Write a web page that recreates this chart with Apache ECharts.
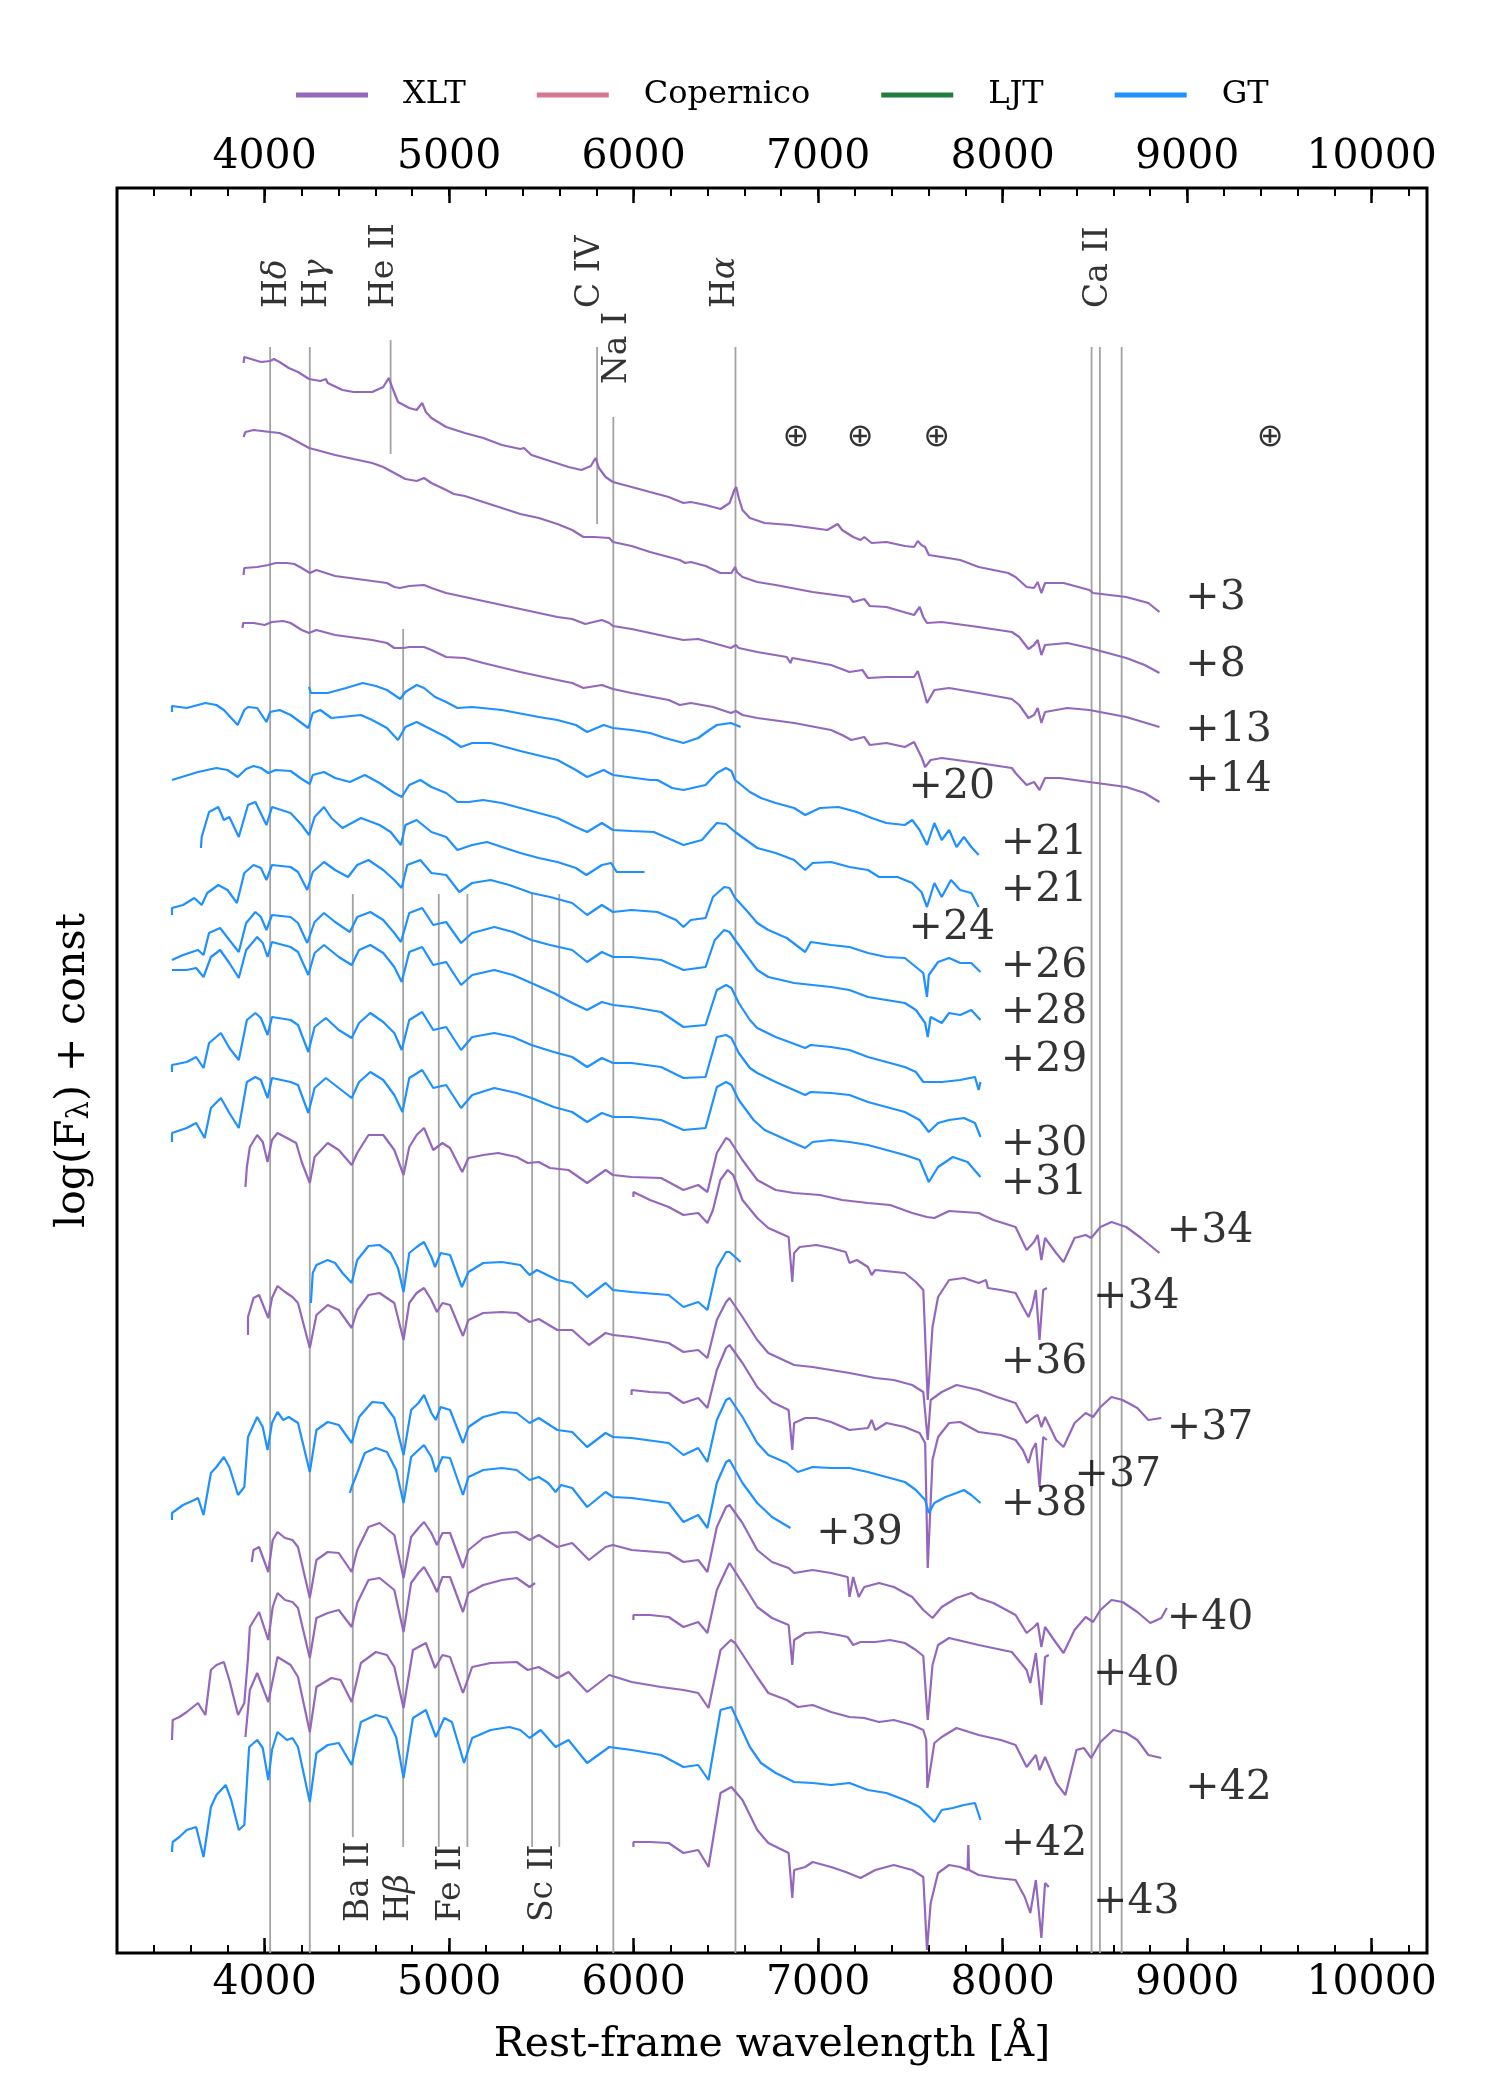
<!DOCTYPE html>
<html><head><meta charset="utf-8">
<script src="https://cdn.jsdelivr.net/npm/echarts@6/dist/echarts.min.js"></script>
<style>html,body{margin:0;padding:0;background:#fff}#c{width:1500px;height:2100px}</style>
</head><body><div id="c"></div>
<script>
// ---------- axis / tick values ----------
const xMin = 3200, xMax = 10300;
const majorTicks = [4000, 5000, 6000, 7000, 8000, 9000, 10000];
const yTop = 188, yBottom = 1953; // log(F)+const, arbitrary offset units (down = fainter)

// ---------- XLT spectra [wavelength (A), log F + const] ----------
const xlt_p3 = [[3886,363],[3890,357],[3900,359],[3980,362],[4030,361],[4050,359],[4081,362],[4131,368],[4181,372],[4241,379],[4302,381],[4332,379],[4342,383],[4422,390],[4482,392],[4583,392],[4643,387],[4673,378],[4681,376],[4693,388],[4723,402],[4784,408],[4824,410],[4854,403],[4874,412],[4904,418],[4984,427],[5085,433],[5185,438],[5286,445],[5386,449],[5406,448],[5446,455],[5547,461],[5647,467],[5717,470],[5768,466],[5794,458],[5812,468],[5848,477],[5888,482],[5989,487],[6089,492],[6190,497],[6270,503],[6310,502],[6390,505],[6471,509],[6520,503],[6546,490],[6556,487],[6570,498],[6590,510],[6630,518],[6710,523],[6850,525],[6970,528],[7050,530],[7106,524],[7130,530],[7190,537],[7230,540],[7250,537],[7290,543],[7370,542],[7470,546],[7520,547],[7540,541],[7560,545],[7580,547],[7600,555],[7670,557],[7770,560],[7870,567],[8030,573],[8070,577],[8130,587],[8170,588],[8190,582],[8210,593],[8230,583],[8330,583],[8470,590],[8490,593],[8670,597],[8790,603],[8850,612]];
const xlt_p8 = [[3886,437],[3896,432],[3940,430],[4030,432],[4081,433],[4131,437],[4181,442],[4241,448],[4302,451],[4382,455],[4482,459],[4583,463],[4643,467],[4703,473],[4763,479],[4824,481],[4864,478],[4904,483],[4984,490],[5025,494],[5085,496],[5185,502],[5286,508],[5386,514],[5486,518],[5587,524],[5667,530],[5728,537],[5788,537],[5868,538],[5888,542],[5989,546],[6089,552],[6190,557],[6250,560],[6280,563],[6310,562],[6390,566],[6471,573],[6530,573],[6550,567],[6560,572],[6590,577],[6670,582],[6770,585],[6970,592],[7170,597],[7190,602],[7250,599],[7280,606],[7370,607],[7520,615],[7550,607],[7570,617],[7590,623],[7670,622],[7870,627],[8050,632],[8090,637],[8140,649],[8170,645],[8190,640],[8210,655],[8230,645],[8350,643],[8470,648],[8670,658],[8770,665],[8850,673]];
const xlt_p13 = [[3886,575],[3890,568],[3960,567],[4020,565],[4060,563],[4121,563],[4161,564],[4201,568],[4245,573],[4281,570],[4382,576],[4583,581],[4663,583],[4703,587],[4733,588],[4784,586],[4864,585],[4904,588],[4984,593],[5085,597],[5185,601],[5386,609],[5587,617],[5667,619],[5738,624],[5828,620],[5868,623],[5888,626],[5989,629],[6190,637],[6270,640],[6350,639],[6430,643],[6527,648],[6554,645],[6570,648],[6670,652],[6830,657],[6850,663],[6860,658],[7070,665],[7170,672],[7240,670],[7270,678],[7370,677],[7520,677],[7540,671],[7560,683],[7590,703],[7630,690],[7710,688],[7870,693],[8050,699],[8090,705],[8140,718],[8170,715],[8190,708],[8210,723],[8230,712],[8350,708],[8470,710],[8670,717],[8850,727]];
const xlt_p14 = [[3880,628],[3884,623],[3940,623],[4000,625],[4040,622],[4101,621],[4141,623],[4201,630],[4241,633],[4281,630],[4382,635],[4583,640],[4663,643],[4703,648],[4753,648],[4784,647],[4864,647],[4904,650],[4984,657],[5085,658],[5185,663],[5386,672],[5587,680],[5667,683],[5728,688],[5828,685],[5888,689],[5989,693],[6190,700],[6250,705],[6310,703],[6430,707],[6527,713],[6554,711],[6590,715],[6670,718],[6870,723],[7070,730],[7130,735],[7180,740],[7250,737],[7280,745],[7370,743],[7470,747],[7520,742],[7560,757],[7580,767],[7610,760],[7670,758],[7870,763],[8050,768],[8070,773],[8130,785],[8170,782],[8200,790],[8230,778],[8310,778],[8470,782],[8670,787],[8770,793],[8850,802]];
const xlt_p31 = [[3896,1187],[3904,1167],[3920,1147],[3960,1135],[3990,1142],[4016,1162],[4040,1140],[4070,1133],[4121,1138],[4171,1143],[4201,1162],[4245,1183],[4271,1157],[4342,1143],[4402,1150],[4472,1165],[4502,1153],[4563,1135],[4643,1135],[4703,1150],[4753,1175],[4784,1147],[4824,1135],[4864,1128],[4914,1150],[4964,1143],[5005,1148],[5071,1172],[5105,1158],[5185,1155],[5266,1153],[5366,1157],[5426,1163],[5486,1162],[5547,1168],[5647,1170],[5748,1183],[5848,1170],[5888,1175],[5989,1177],[6149,1178],[6270,1190],[6350,1185],[6400,1192],[6451,1153],[6501,1138],[6520,1140],[6590,1160],[6670,1180],[6770,1190],[6870,1193],[7010,1195],[7130,1200],[7270,1203],[7390,1205],[7510,1213],[7590,1217],[7630,1218],[7710,1211],[7870,1213],[7950,1220],[8070,1227],[8130,1250],[8170,1242],[8190,1235],[8210,1260],[8230,1238],[8290,1253],[8330,1262],[8390,1238],[8450,1235],[8480,1238],[8530,1227],[8590,1222],[8670,1227],[8750,1238],[8850,1253]];
const xlt_p34r = [[5999,1197],[5999,1192],[6089,1200],[6190,1207],[6270,1215],[6350,1213],[6400,1223],[6430,1210],[6470,1180],[6510,1170],[6540,1175],[6590,1200],[6670,1218],[6730,1228],[6840,1237],[6860,1282],[6870,1253],[6900,1247],[6990,1245],[7070,1248],[7150,1252],[7170,1263],[7210,1260],[7270,1267],[7290,1275],[7310,1270],[7470,1273],[7530,1282],[7570,1290],[7594,1400],[7620,1327],[7650,1297],[7710,1280],[7790,1278],[7870,1283],[7910,1280],[7920,1288],[7990,1290],[8070,1293],[8110,1307],[8140,1317],[8160,1307],[8180,1290],[8200,1340],[8220,1290],[8240,1288]];
const xlt_p36 = [[3910,1335],[3910,1317],[3940,1298],[3970,1295],[4020,1318],[4040,1298],[4070,1286],[4111,1292],[4151,1297],[4181,1303],[4245,1348],[4281,1315],[4342,1305],[4402,1310],[4472,1328],[4502,1310],[4563,1295],[4623,1293],[4703,1303],[4753,1340],[4784,1303],[4824,1293],[4864,1288],[4904,1300],[4934,1312],[4964,1303],[5005,1305],[5075,1336],[5105,1320],[5185,1313],[5286,1312],[5366,1313],[5436,1322],[5486,1319],[5587,1330],[5667,1330],[5758,1345],[5848,1333],[5888,1335],[5989,1337],[6190,1343],[6270,1352],[6350,1350],[6400,1358],[6451,1320],[6501,1302],[6520,1298],[6590,1317],[6670,1340],[6730,1353],[6870,1365],[6970,1367],[7070,1370],[7170,1373],[7310,1378],[7410,1380],[7510,1385],[7570,1392],[7594,1440],[7610,1400],[7670,1392],[7750,1385],[7870,1390],[7970,1397],[8070,1403],[8130,1423],[8170,1417],[8190,1415],[8210,1427],[8230,1417],[8290,1440],[8330,1447],[8390,1423],[8450,1413],[8490,1417],[8530,1407],[8590,1397],[8650,1400],[8730,1408],[8790,1420],[8860,1418]];
const xlt_p37r = [[5989,1395],[5989,1390],[6089,1392],[6190,1393],[6270,1403],[6350,1398],[6400,1408],[6451,1370],[6501,1348],[6520,1345],[6590,1363],[6670,1387],[6750,1402],[6840,1410],[6860,1450],[6870,1423],[6930,1418],[6990,1418],[7070,1422],[7170,1430],[7270,1428],[7290,1420],[7310,1430],[7370,1423],[7470,1427],[7550,1433],[7580,1443],[7594,1568],[7620,1460],[7650,1437],[7710,1423],[7770,1422],[7870,1432],[7990,1435],[8070,1440],[8110,1450],[8140,1463],[8160,1450],[8180,1443],[8200,1487],[8220,1437],[8240,1440]];
const xlt_p40 = [[3930,1562],[3940,1550],[3970,1547],[4020,1572],[4044,1540],[4070,1532],[4111,1538],[4151,1540],[4181,1547],[4245,1598],[4281,1560],[4342,1552],[4402,1553],[4472,1572],[4502,1550],[4563,1527],[4623,1523],[4703,1535],[4753,1578],[4794,1537],[4834,1528],[4864,1522],[4904,1533],[4934,1545],[4964,1533],[5005,1533],[5075,1568],[5105,1550],[5185,1538],[5286,1533],[5366,1532],[5436,1540],[5486,1535],[5587,1547],[5667,1543],[5758,1560],[5848,1547],[5888,1545],[5989,1550],[6190,1553],[6270,1562],[6350,1560],[6400,1572],[6451,1527],[6501,1507],[6520,1505],[6590,1523],[6670,1550],[6750,1562],[6840,1568],[6870,1573],[6970,1570],[7070,1573],[7160,1577],[7170,1597],[7190,1577],[7220,1597],[7250,1587],[7330,1583],[7410,1587],[7510,1597],[7570,1610],[7620,1618],[7670,1607],[7750,1598],[7830,1593],[7870,1598],[7950,1603],[8070,1615],[8130,1633],[8170,1627],[8190,1623],[8210,1647],[8230,1627],[8290,1643],[8330,1653],[8390,1630],[8450,1617],[8490,1622],[8530,1610],[8590,1600],[8650,1602],[8730,1612],[8800,1623],[8860,1618],[8890,1608]];
const xlt_p42b = [[3498,1740],[3502,1720],[3538,1717],[3578,1712],[3639,1703],[3679,1715],[3709,1670],[3739,1665],[3779,1662],[3809,1680],[3856,1715],[3890,1703],[3910,1658],[3920,1627],[3970,1612],[4020,1640],[4044,1607],[4070,1593],[4111,1600],[4151,1602],[4181,1608],[4245,1658],[4281,1618],[4342,1613],[4402,1610],[4472,1627],[4502,1603],[4563,1580],[4623,1578],[4703,1590],[4753,1632],[4794,1583],[4834,1573],[4864,1567],[4904,1580],[4934,1592],[4964,1577],[5005,1577],[5075,1612],[5105,1593],[5185,1585],[5286,1580],[5366,1578],[5436,1587],[5466,1583]];
const xlt_p40r = [[5999,1620],[5999,1615],[6089,1615],[6190,1617],[6270,1627],[6350,1622],[6400,1633],[6451,1590],[6501,1570],[6520,1563],[6590,1583],[6670,1607],[6750,1618],[6840,1625],[6860,1665],[6870,1640],[6930,1633],[7010,1632],[7110,1635],[7160,1637],[7190,1645],[7230,1642],[7310,1642],[7390,1640],[7470,1643],[7530,1650],[7570,1656],[7594,1720],[7620,1665],[7650,1645],[7710,1638],[7870,1645],[8050,1652],[8130,1670],[8150,1683],[8180,1653],[8210,1705],[8230,1657],[8250,1655]];
const xlt_p42 = [[3896,1737],[3920,1690],[3960,1673],[4020,1702],[4070,1657],[4141,1665],[4181,1677],[4245,1732],[4281,1687],[4362,1678],[4412,1680],[4472,1702],[4522,1663],[4603,1652],[4663,1655],[4703,1667],[4753,1708],[4804,1650],[4874,1643],[4924,1668],[4964,1655],[5005,1657],[5075,1693],[5125,1667],[5225,1663],[5366,1662],[5426,1670],[5486,1667],[5587,1678],[5647,1672],[5748,1692],[5868,1675],[5989,1682],[6149,1687],[6270,1690],[6350,1693],[6406,1708],[6471,1650],[6527,1640],[6550,1643],[6610,1660],[6670,1677],[6730,1693],[6830,1700],[6890,1707],[6970,1705],[7070,1712],[7170,1717],[7250,1718],[7330,1722],[7410,1720],[7510,1725],[7570,1730],[7586,1740],[7592,1788],[7630,1743],[7670,1737],[7750,1728],[7870,1735],[7990,1740],[8070,1745],[8130,1767],[8180,1755],[8200,1770],[8230,1757],[8290,1783],[8340,1795],[8400,1750],[8440,1748],[8480,1758],[8530,1742],[8600,1730],[8670,1733],[8730,1740],[8790,1755],[8860,1758]];
const xlt_p43r = [[5999,1847],[5999,1842],[6089,1842],[6190,1843],[6270,1853],[6350,1850],[6406,1867],[6471,1793],[6530,1787],[6590,1800],[6670,1830],[6730,1843],[6840,1853],[6860,1898],[6870,1870],[6930,1867],[6970,1862],[7070,1867],[7150,1872],[7230,1878],[7310,1870],[7410,1865],[7510,1870],[7570,1877],[7590,1950],[7610,1903],[7650,1873],[7710,1865],[7770,1867],[7810,1870],[7814,1845],[7818,1870],[7870,1875],[7970,1878],[8070,1880],[8120,1897],[8150,1913],[8180,1880],[8210,1938],[8230,1883],[8250,1887]];

// ---------- GT spectra ----------
const gt_p20 = [[4241,687],[4251,693],[4342,693],[4442,688],[4532,683],[4603,686],[4663,690],[4735,699],[4763,692],[4824,685],[4864,688],[4924,697],[4984,702],[5045,708],[5125,707],[5286,710],[5486,717],[5587,720],[5687,725],[5748,732],[5838,725],[5888,728],[5989,730],[6089,733],[6170,738],[6270,743],[6350,738],[6410,730],[6451,725],[6527,723],[6580,727]];
const gt_p21a = [[3498,712],[3498,706],[3578,708],[3679,703],[3739,705],[3779,710],[3854,725],[3890,710],[3910,707],[3960,708],[4010,722],[4030,712],[4081,710],[4141,715],[4237,728],[4261,713],[4302,710],[4362,718],[4522,715],[4583,720],[4663,728],[4723,740],[4763,727],[4824,722],[4984,737],[5065,747],[5125,743],[5225,743],[5386,751],[5587,760],[5687,770],[5748,777],[5838,770],[5888,775],[6089,780],[6129,780],[6209,788],[6270,790],[6390,785],[6451,773],[6500,768],[6530,771],[6550,780],[6630,792],[6690,798],[6770,803],[6870,808],[6930,815],[7010,808],[7110,807],[7210,812],[7290,818],[7370,823],[7470,825],[7510,820],[7550,830],[7590,845],[7630,823],[7670,840],[7710,830],[7750,847],[7790,837],[7830,847],[7870,855]];
const gt_p21b = [[3498,780],[3639,772],[3739,768],[3799,770],[3854,777],[3900,769],[3940,766],[3980,768],[4020,773],[4060,770],[4141,771],[4201,779],[4245,784],[4261,775],[4322,772],[4382,778],[4462,782],[4543,775],[4623,783],[4703,793],[4743,797],[4784,785],[4844,780],[4904,787],[4984,793],[5045,802],[5105,802],[5185,800],[5286,803],[5386,808],[5486,813],[5587,818],[5687,827],[5748,832],[5828,823],[5888,830],[5989,831],[6109,832],[6209,840],[6270,845],[6370,840],[6451,823],[6500,824],[6550,832],[6670,848],[6770,853],[6870,860],[6930,870],[6970,863],[7070,862],[7170,867],[7270,870],[7330,877],[7430,877],[7510,883],[7560,892],[7590,907],[7630,883],[7670,897],[7720,880],[7770,890],[7830,893],[7870,907]];
const gt_p24 = [[3655,848],[3659,837],[3699,812],[3749,807],[3779,820],[3809,817],[3860,837],[3910,805],[3950,802],[4010,825],[4040,807],[4141,813],[4201,825],[4241,835],[4271,817],[4322,807],[4362,818],[4422,828],[4522,818],[4623,825],[4683,832],[4739,845],[4763,825],[4824,820],[4904,832],[4984,837],[5045,850],[5125,845],[5205,842],[5286,847],[5386,853],[5486,858],[5587,862],[5687,868],[5744,875],[5828,865],[5878,863],[5908,872],[5989,872],[6059,872]];
const gt_p26 = [[3498,915],[3498,908],[3558,905],[3619,898],[3659,905],[3689,893],[3749,885],[3799,890],[3850,903],[3890,873],[3940,865],[3980,868],[4010,880],[4040,865],[4141,867],[4181,872],[4231,890],[4261,872],[4322,862],[4382,870],[4452,877],[4502,865],[4563,860],[4643,870],[4703,880],[4743,888],[4773,865],[4844,860],[4904,873],[4984,875],[5055,892],[5125,883],[5225,880],[5326,885],[5446,893],[5547,897],[5667,903],[5748,915],[5828,905],[5888,912],[5989,910],[6129,912],[6230,920],[6270,927],[6310,920],[6390,918],[6430,897],[6491,887],[6520,888],[6550,898],[6610,910],[6670,923],[6730,930],[6830,938],[6930,952],[6960,942],[7070,945],[7170,947],[7270,953],[7370,957],[7470,958],[7530,967],[7570,973],[7590,997],[7600,975],[7650,962],[7710,958],[7770,963],[7830,963],[7880,972]];
const gt_p28 = [[3498,960],[3558,955],[3639,950],[3669,955],[3699,933],[3759,928],[3809,940],[3860,952],[3900,923],[3950,912],[3980,917],[4010,930],[4040,915],[4141,917],[4181,923],[4231,943],[4271,922],[4322,913],[4382,922],[4462,932],[4502,917],[4573,912],[4643,920],[4703,933],[4739,942],[4784,913],[4854,908],[4914,925],[4984,922],[5065,943],[5125,933],[5245,927],[5346,932],[5446,940],[5547,945],[5667,950],[5748,962],[5828,952],[5888,957],[5989,957],[6149,960],[6270,970],[6390,967],[6440,940],[6491,930],[6520,932],[6550,940],[6610,955],[6670,970],[6730,977],[6870,983],[6970,985],[7070,987],[7170,990],[7270,997],[7370,1000],[7470,1003],[7530,1010],[7580,1023],[7594,1037],[7610,1017],[7670,1023],[7710,1013],[7770,1015],[7830,1010],[7880,1020]];
const gt_p29 = [[3498,970],[3578,970],[3629,968],[3669,977],[3709,957],[3759,950],[3809,963],[3860,978],[3900,950],[3960,937],[3990,943],[4016,957],[4040,942],[4141,947],[4181,952],[4237,975],[4271,953],[4322,945],[4402,957],[4472,965],[4512,950],[4573,945],[4643,953],[4703,967],[4743,982],[4784,952],[4854,947],[4914,965],[4984,962],[5065,985],[5125,975],[5245,970],[5346,975],[5446,983],[5567,993],[5667,1003],[5748,1010],[5828,1002],[5888,1005],[5989,1007],[6149,1012],[6270,1027],[6390,1025],[6451,990],[6501,985],[6530,988],[6570,1003],[6630,1020],[6670,1028],[6770,1037],[6930,1048],[6960,1045],[7070,1047],[7170,1050],[7270,1057],[7370,1062],[7470,1067],[7530,1072],[7570,1082],[7670,1082],[7770,1080],[7850,1077],[7870,1090],[7880,1082]];
const gt_p30 = [[3498,1072],[3498,1065],[3578,1062],[3629,1057],[3669,1068],[3699,1043],[3763,1033],[3809,1048],[3860,1060],[3904,1020],[3950,1013],[3980,1018],[4016,1035],[4040,1017],[4141,1020],[4181,1025],[4237,1052],[4271,1027],[4332,1018],[4402,1030],[4472,1038],[4512,1023],[4573,1013],[4643,1022],[4703,1033],[4743,1050],[4784,1020],[4854,1012],[4914,1030],[4984,1027],[5065,1050],[5125,1037],[5245,1033],[5346,1037],[5446,1045],[5567,1052],[5667,1057],[5748,1067],[5828,1058],[5888,1063],[5989,1063],[6149,1067],[6270,1078],[6390,1077],[6451,1037],[6501,1035],[6530,1038],[6570,1053],[6630,1068],[6670,1073],[6770,1082],[6930,1095],[6960,1092],[7070,1093],[7170,1095],[7270,1102],[7370,1107],[7470,1112],[7550,1120],[7600,1132],[7650,1123],[7710,1120],[7790,1118],[7850,1123],[7880,1137]];
const gt_p31 = [[3498,1142],[3498,1133],[3578,1128],[3629,1123],[3675,1138],[3709,1108],[3763,1098],[3809,1113],[3860,1128],[3904,1082],[3950,1077],[3980,1080],[4016,1098],[4040,1078],[4141,1082],[4181,1085],[4237,1113],[4271,1088],[4332,1078],[4402,1088],[4472,1098],[4512,1082],[4573,1072],[4643,1080],[4703,1095],[4747,1112],[4784,1078],[4854,1070],[4914,1088],[4984,1085],[5065,1108],[5125,1095],[5245,1088],[5366,1093],[5446,1098],[5567,1107],[5667,1112],[5748,1122],[5828,1113],[5888,1117],[5989,1117],[6149,1120],[6270,1130],[6390,1128],[6451,1087],[6501,1082],[6530,1085],[6570,1100],[6650,1120],[6710,1130],[6830,1140],[6930,1148],[6970,1142],[7070,1140],[7170,1142],[7270,1145],[7370,1150],[7470,1155],[7550,1160],[7600,1182],[7650,1167],[7730,1157],[7810,1162],[7880,1177]];
const gt_p34 = [[4251,1303],[4261,1273],[4281,1265],[4342,1260],[4382,1263],[4422,1273],[4472,1283],[4502,1260],[4563,1246],[4623,1245],[4683,1253],[4723,1268],[4753,1292],[4784,1253],[4824,1247],[4864,1242],[4904,1257],[4924,1267],[4954,1253],[5005,1255],[5069,1287],[5105,1272],[5185,1263],[5286,1262],[5386,1265],[5436,1275],[5476,1270],[5587,1280],[5667,1283],[5748,1297],[5848,1283],[5888,1290],[5989,1292],[6190,1295],[6270,1307],[6350,1302],[6400,1310],[6451,1268],[6501,1252],[6520,1252],[6580,1262]];
const gt_p38 = [[3498,1520],[3498,1513],[3558,1505],[3619,1500],[3639,1498],[3669,1515],[3709,1473],[3739,1467],[3779,1457],[3809,1467],[3856,1495],[3890,1487],[3910,1437],[3960,1417],[3990,1427],[4016,1450],[4040,1423],[4070,1412],[4101,1420],[4131,1417],[4181,1423],[4245,1472],[4281,1430],[4342,1422],[4402,1425],[4472,1443],[4512,1417],[4583,1402],[4643,1403],[4703,1418],[4753,1455],[4794,1410],[4834,1403],[4864,1395],[4904,1413],[4928,1420],[4954,1407],[5005,1410],[5075,1443],[5105,1427],[5185,1417],[5286,1412],[5366,1413],[5436,1423],[5486,1418],[5587,1430],[5667,1432],[5748,1447],[5848,1433],[5888,1437],[5989,1438],[6190,1443],[6270,1455],[6350,1448],[6400,1462],[6451,1420],[6501,1400],[6520,1398],[6590,1417],[6670,1443],[6730,1455],[6830,1463],[6890,1472],[6970,1467],[7070,1468],[7170,1468],[7270,1472],[7370,1477],[7470,1482],[7530,1490],[7580,1500],[7600,1513],[7630,1503],[7690,1497],[7750,1493],[7790,1490],[7830,1495],[7880,1503]];
const gt_p39 = [[4462,1493],[4472,1487],[4502,1473],[4543,1453],[4603,1448],[4663,1452],[4713,1470],[4753,1503],[4794,1457],[4834,1450],[4864,1445],[4904,1457],[4928,1472],[4964,1457],[5005,1458],[5075,1495],[5105,1477],[5185,1470],[5286,1468],[5366,1470],[5436,1480],[5486,1477],[5537,1483],[5577,1492],[5607,1485],[5667,1488],[5748,1507],[5848,1492],[5888,1497],[5989,1498],[6190,1503],[6270,1522],[6350,1515],[6400,1528],[6451,1483],[6501,1462],[6520,1460],[6590,1483],[6670,1503],[6750,1517],[6850,1528]];
const gt_p42 = [[3498,1852],[3502,1842],[3538,1837],[3578,1830],[3629,1827],[3669,1857],[3709,1807],[3739,1795],[3789,1785],[3819,1800],[3860,1830],[3890,1825],[3916,1747],[3960,1740],[3990,1748],[4020,1780],[4040,1750],[4070,1732],[4121,1740],[4151,1738],[4181,1747],[4245,1802],[4281,1753],[4342,1745],[4402,1743],[4472,1765],[4522,1722],[4603,1715],[4663,1718],[4713,1737],[4753,1778],[4804,1718],[4874,1710],[4928,1737],[4974,1718],[5015,1722],[5081,1763],[5125,1738],[5225,1730],[5326,1727],[5386,1730],[5436,1738],[5496,1730],[5577,1747],[5647,1740],[5748,1763],[5868,1747],[5989,1750],[6149,1755],[6270,1767],[6350,1765],[6406,1780],[6471,1710],[6530,1707],[6570,1723],[6630,1747],[6690,1763],[6770,1773],[6870,1782],[6970,1783],[7070,1785],[7170,1783],[7270,1790],[7370,1793],[7470,1800],[7550,1807],[7630,1822],[7670,1810],[7730,1808],[7790,1805],[7850,1803],[7880,1820]];

// ---------- line identifications ----------
const lineWl     = [4030, 4245, 4683, 5802, 5890, 6552, 8482, 8527, 8645, 4478, 4751, 4944, 5099, 5450, 5597];
const lineTop    = [347, 347, 340, 347, 417, 347, 347, 347, 347, 894, 629, 894, 894, 894, 894];
const lineBottom = [1953, 1953, 454, 524, 1953, 1953, 1953, 1953, 1953, 1837, 1847, 1847, 1847, 1847, 1847];
const lineLabels = [
  [4072, 308, 'H{i|δ}'], [4285, 308, 'H{i|γ}'], [4647, 308, 'He II'], [5766, 308, 'C IV'],
  [5913, 384, 'Na I'], [6500, 308, 'H{i|α}'], [8520, 308, 'Ca II'],
  [4513, 1922, 'Ba II'], [4729, 1922, 'H{i|β}'], [5010, 1922, 'Fe II'], [5513, 1922, 'Sc II']
];
const telluric = [[6880, 438], [7228, 438], [7642, 438], [9450, 438]];
const epochLabels = [
  [8990,598,'+3'],[8990,665,'+8'],[8990,730,'+13'],[8990,780,'+14'],[7490,787,'+20'],
  [7990,843,'+21'],[7990,890,'+21'],[7490,928,'+24'],[7990,966,'+26'],[7990,1012,'+28'],
  [7990,1060,'+29'],[7990,1144,'+30'],[7990,1183,'+31'],[8890,1231,'+34'],[8490,1297,'+34'],
  [7990,1362,'+36'],[8890,1428,'+37'],[8390,1475,'+37'],[7990,1504,'+38'],[6990,1533,'+39'],
  [8890,1618,'+40'],[8490,1674,'+40'],[8990,1788,'+42'],[7990,1844,'+42'],[8490,1902,'+43']
];

const C_XLT = '#9467bd', C_COP = '#d6788f', C_LJT = '#217c3d', C_GT = '#1e90ff';
const SERIF = 'DejaVu Serif';

const xltList = [xlt_p3, xlt_p8, xlt_p13, xlt_p14, xlt_p31, xlt_p34r, xlt_p36, xlt_p37r, xlt_p40, xlt_p42b, xlt_p40r, xlt_p42, xlt_p43r];
const gtList = [gt_p20, gt_p21a, gt_p21b, gt_p24, gt_p26, gt_p28, gt_p29, gt_p30, gt_p31, gt_p34, gt_p38, gt_p39, gt_p42];

const series = [];
function spec(name, color, data) {
  return {name, type: 'line', data, showSymbol: false, symbol: 'none', silent: true,
    lineStyle: {width: 2.2, color}, itemStyle: {color}, z: 3, animation: false};
}
xltList.forEach(d => series.push(spec('XLT', C_XLT, d)));
series.push(spec('Copernico', C_COP, []));
series.push(spec('LJT', C_LJT, []));
gtList.forEach(d => series.push(spec('GT', C_GT, d)));

lineWl.forEach((w, i) => series.push({
  type: 'line', data: [[w, lineTop[i]], [w, lineBottom[i]]], showSymbol: false, symbol: 'none', silent: true,
  lineStyle: {width: 1.8, color: '#a3a3a3'}, z: 1, animation: false
}));

series.push({
  type: 'scatter', symbolSize: 0, silent: true, z: 6, animation: false,
  data: lineLabels.map(l => ({value: [l[0], l[1]], txt: l[2]})),
  label: {show: true, position: 'inside', rotate: 90, align: 'left', verticalAlign: 'middle',
    fontFamily: SERIF, fontSize: 33, color: '#000',
    formatter: p => p.data.txt, rich: {i: {fontFamily: SERIF, fontSize: 33, fontStyle: 'italic', color: '#000'}}}
});
series.push({
  type: 'scatter', symbolSize: 0, silent: true, z: 6, animation: false,
  data: telluric,
  label: {show: true, position: 'inside', align: 'center', verticalAlign: 'middle',
    fontFamily: 'DejaVu Sans', fontSize: 32, color: '#000', formatter: '⊕'}
});
series.push({
  type: 'scatter', symbolSize: 0, silent: true, z: 6, animation: false,
  data: epochLabels.map(l => ({value: [l[0], l[1]], txt: l[2]})),
  label: {show: true, position: 'inside', align: 'left', verticalAlign: 'middle',
    fontFamily: SERIF, fontSize: 41, color: '#000', formatter: p => p.data.txt}
});

const tickFont = {fontFamily: SERIF, fontSize: 41, color: '#000'};
function majorAxis(pos, withName) {
  const a = {type: 'value', position: pos, min: xMin, max: xMax,
    axisLine: {show: false}, splitLine: {show: false},
    axisTick: {show: true, inside: true, length: 15, lineStyle: {width: 2.5, color: '#000'}, customValues: majorTicks},
    axisLabel: Object.assign({show: true, margin: 10, customValues: majorTicks, formatter: v => String(v)}, tickFont)
  };
  if (withName) {
    a.name = 'Rest-frame wavelength [Å]';
    a.nameLocation = 'middle';
    a.nameGap = 72;
    a.nameTextStyle = {fontFamily: SERIF, fontSize: 41, color: '#000'};
  }
  return a;
}
function minorAxis(pos) {
  return {type: 'value', position: pos, min: xMin, max: xMax, interval: 200,
    axisLine: {show: false}, splitLine: {show: false}, axisLabel: {show: false},
    axisTick: {show: true, inside: true, length: 8, lineStyle: {width: 2, color: '#000'}}};
}

const option = {
  animation: false,
  backgroundColor: '#fff',
  grid: {left: 117, right: 73, top: 188, bottom: 147, show: true, borderColor: '#000', borderWidth: 3, backgroundColor: 'transparent'},
  legend: {
    data: ['XLT', 'Copernico', 'LJT', 'GT'], left: 291, top: 74, icon: 'rect',
    itemWidth: 72, itemHeight: 5, itemGap: 71,
    textStyle: {fontFamily: SERIF, fontSize: 32, color: '#000', padding: [0, 0, 0, 30]}
  },
  xAxis: [majorAxis('bottom', true), majorAxis('top', false), minorAxis('bottom'), minorAxis('top')],
  yAxis: {
    type: 'value', inverse: true, min: yTop, max: yBottom,
    axisLine: {show: false}, axisTick: {show: false}, axisLabel: {show: false}, splitLine: {show: false},
    name: '{n|log(F}{s|λ}{n|) + const}', nameLocation: 'middle', nameGap: 22, nameRotate: 90,
    nameTextStyle: {rich: {
      n: {fontFamily: SERIF, fontSize: 41, color: '#000'},
      s: {fontFamily: SERIF, fontSize: 29, color: '#000', verticalAlign: 'bottom', padding: [14, 0, 0, 0]}
    }}
  },
  series
};
const chart = echarts.init(document.getElementById('c'));
chart.setOption(option);
</script></body></html>
